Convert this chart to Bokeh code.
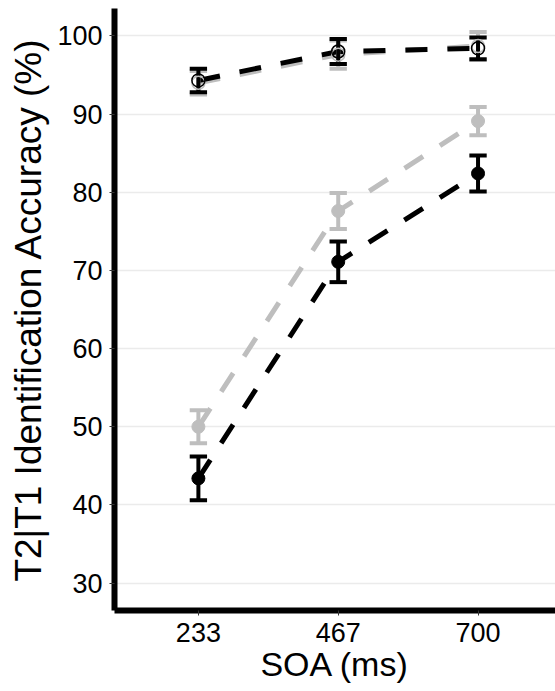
from bokeh.plotting import figure
from bokeh.models import FixedTicker, Range1d
from bokeh.embed import file_html
from bokeh.resources import INLINE

# ---- data ----
soa_labels = ["233", "467", "700"]
soa_pos = [1, 2, 3]

lower_black = [43.4, 71.1, 82.4]
lower_black_err = [2.8, 2.6, 2.3]
lower_grey = [50.0, 77.6, 89.1]
lower_grey_err = [2.1, 2.3, 1.8]
upper_black = [94.3, 98.0, 98.4]
upper_black_err = [1.5, 1.6, 1.4]
upper_grey = [94.0, 97.6, 98.7]
upper_grey_err = [1.5, 1.8, 1.8]

y_ticks = [30, 40, 50, 60, 70, 80, 90, 100]

BLACK = "#000000"
GREY = "#BEBEBE"
FONT = "Liberation Sans"

p = figure(width=555, height=691,
           x_range=Range1d(0.4, 3.554), y_range=Range1d(26.5, 103.5),
           output_backend="svg", toolbar_location=None,
           min_border_left=114, min_border_right=0,
           min_border_top=8, min_border_bottom=81)
p.outline_line_color = None
p.background_fill_color = "white"
p.border_fill_color = "white"

# grid
p.xgrid.grid_line_color = None
p.ygrid.grid_line_color = "#EBEBEB"
p.ygrid.grid_line_width = 1.6
p.ygrid.ticker = FixedTicker(ticks=y_ticks)

# axes
p.xaxis.ticker = FixedTicker(ticks=soa_pos)
p.xaxis.major_label_overrides = {k: v for k, v in zip(soa_pos, soa_labels)}
p.yaxis.ticker = FixedTicker(ticks=y_ticks)
for ax in (p.xaxis[0], p.yaxis[0]):
    ax.axis_line_width = 6
    ax.axis_line_color = BLACK
    ax.major_tick_line_color = "#333333"
    ax.major_tick_line_width = 1
    ax.major_tick_out = 5
    ax.major_tick_in = 0
    ax.minor_tick_line_color = None
    ax.major_label_text_font = FONT
    ax.major_label_text_font_size = "27px"
    ax.major_label_text_color = BLACK
    ax.axis_label_text_font = FONT
    ax.axis_label_text_font_style = "normal"
    ax.axis_label_text_color = BLACK
p.xaxis.axis_label_text_font_size = "34px"
p.yaxis.axis_label_text_font_size = "37px"
p.xaxis.axis_label = "SOA (ms)"
p.yaxis.axis_label = "T2|T1 Identification Accuracy (%)"
p.xaxis.major_label_standoff = 7
p.yaxis.major_label_standoff = 7
p.xaxis.axis_label_standoff = 0
p.yaxis.axis_label_standoff = 5

series = [
    (lower_grey, lower_grey_err, GREY, True),
    (upper_grey, upper_grey_err, GREY, False),
    (lower_black, lower_black_err, BLACK, True),
    (upper_black, upper_black_err, BLACK, False),
]

# lines
for ys, es, col, filled in series:
    p.line(soa_pos, ys, line_color=col, line_width=5, line_dash="22 20")

# error bars
cap = 0.062
for ys, es, col, filled in series:
    lo = [y - e for y, e in zip(ys, es)]
    hi = [y + e for y, e in zip(ys, es)]
    p.segment(x0=soa_pos, x1=soa_pos, y0=lo, y1=hi, line_color=col, line_width=4)
    p.segment(x0=[x - cap for x in soa_pos], x1=[x + cap for x in soa_pos],
              y0=lo, y1=lo, line_color=col, line_width=4)
    p.segment(x0=[x - cap for x in soa_pos], x1=[x + cap for x in soa_pos],
              y0=hi, y1=hi, line_color=col, line_width=4)

# points
for ys, es, col, filled in series:
    if filled:
        p.scatter(soa_pos, ys, size=13, marker="circle", fill_color=col, line_color=col)
    else:
        p.scatter(soa_pos, ys, size=13, marker="circle", fill_alpha=0,
                  line_color=col, line_width=1.5)

open("out.html", "w").write(file_html(p, INLINE))
